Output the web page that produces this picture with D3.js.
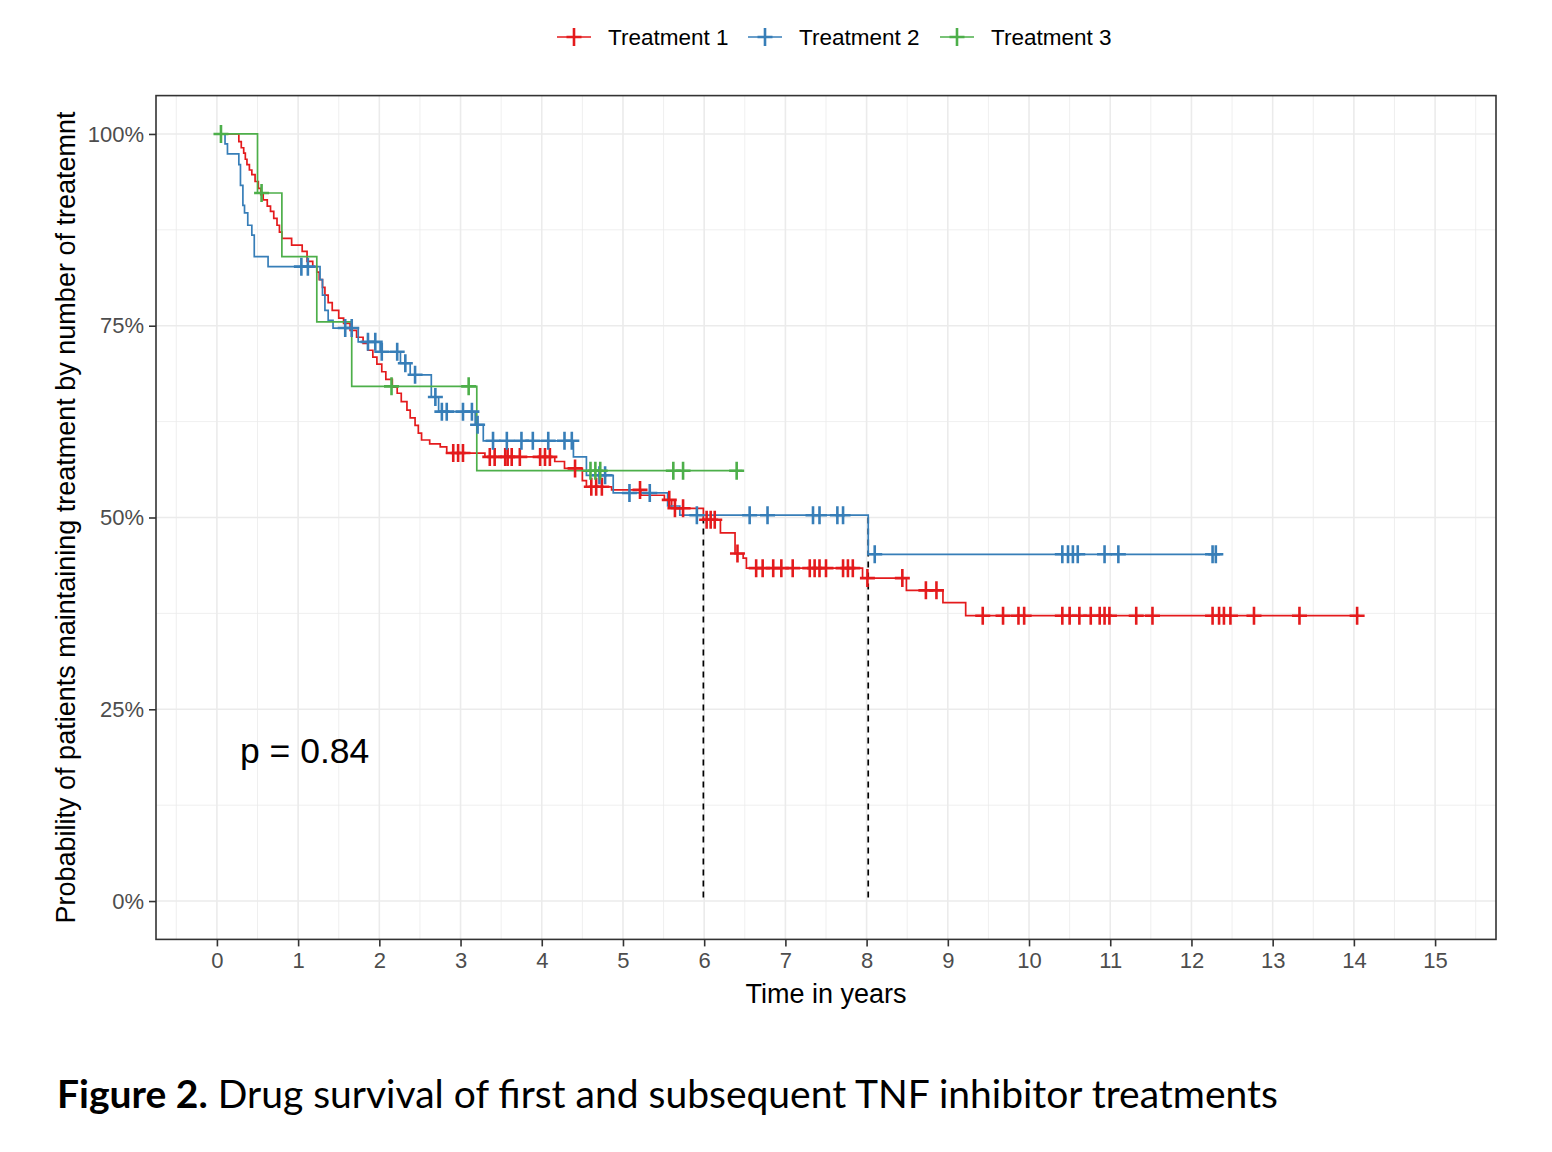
<!DOCTYPE html>
<html>
<head>
<meta charset="utf-8">
<script src="https://cdn.jsdelivr.net/npm/d3@7"></script>
<style>
  body { margin: 0; background: #fff; }
  text { font-family: "Liberation Sans", Arial, sans-serif; }
</style>
</head>
<body>
<div id="chart"></div>
<script>
// strata and colours
var groups = ["Treatment 1", "Treatment 2", "Treatment 3"];
var colors = ["#E41A1C", "#377EB8", "#4DAF4A"];

// Treatment 1 : step times / survival after the step (last entry = end of follow-up)
var t1Times = [0, 0.27, 0.30, 0.33, 0.35, 0.37, 0.40, 0.43, 0.47, 0.51, 0.54, 0.57, 0.62, 0.66, 0.70, 0.74, 0.77, 0.80, 0.92,
  1.05, 1.11, 1.18, 1.23, 1.26, 1.30, 1.33, 1.37, 1.42, 1.50, 1.56, 1.64, 1.72, 1.80, 1.86, 1.92, 1.97,
  2.03, 2.08, 2.16, 2.22, 2.27, 2.34, 2.38, 2.44, 2.48, 2.52, 2.62, 2.75, 2.83, 3.30, 4.16, 4.28, 4.50, 4.55,
  4.86, 5.22, 5.51, 5.60, 5.99, 6.20, 6.38, 6.48, 6.52, 7.95, 8.49, 8.94, 9.22, 14.07];
var t1Surv = [1, 0.990, 0.982, 0.975, 0.967, 0.960, 0.953, 0.947, 0.938, 0.929, 0.921, 0.914, 0.906, 0.899, 0.890, 0.881, 0.872, 0.864, 0.855,
  0.847, 0.834, 0.827, 0.820, 0.810, 0.800, 0.790, 0.780, 0.770, 0.760, 0.753, 0.744, 0.735, 0.727, 0.718, 0.709, 0.700,
  0.690, 0.680, 0.670, 0.662, 0.651, 0.640, 0.630, 0.620, 0.610, 0.601, 0.596, 0.592, 0.584, 0.579, 0.573, 0.564, 0.548, 0.540,
  0.536, 0.529, 0.523, 0.512, 0.497, 0.480, 0.453, 0.447, 0.434, 0.421, 0.405, 0.389, 0.372, 0.372];
var t1Censor = [2.91, 2.97, 3.03, 3.36, 3.42, 3.55, 3.58, 3.63, 3.73, 3.98, 4.04, 4.10, 4.41, 4.61, 4.67, 4.74, 5.21, 5.57,
  5.64, 5.74, 6.03, 6.08, 6.13, 6.41, 6.64, 6.72, 6.85, 6.95, 7.09, 7.30, 7.36, 7.42, 7.50, 7.71, 7.77, 7.83, 8.01, 8.44,
  8.73, 8.86, 9.43, 9.68, 9.87, 9.94, 10.41, 10.50, 10.62, 10.76, 10.87, 10.93, 10.99, 11.32, 11.52, 12.26, 12.34,
  12.40, 12.48, 12.77, 13.33, 14.04];

// Treatment 2
var t2Times = [0, 0.10, 0.13, 0.27, 0.29, 0.32, 0.34, 0.38, 0.43, 0.46, 0.63, 1.27, 1.30, 1.33, 1.37, 1.43, 1.74, 2.01,
  2.26, 2.38, 2.64, 2.73, 3.18, 3.28, 4.39, 4.55, 4.88, 5.55, 5.70, 8.02, 12.38];
var t2Surv = [1, 0.987, 0.974, 0.960, 0.933, 0.907, 0.897, 0.881, 0.868, 0.840, 0.827, 0.810, 0.790, 0.770, 0.757, 0.747, 0.729, 0.716,
  0.701, 0.686, 0.657, 0.638, 0.621, 0.600, 0.579, 0.555, 0.532, 0.515, 0.503, 0.452, 0.452];
var t2Censor = [1.04, 1.12, 1.58, 1.66, 1.86, 1.95, 2.03, 2.22, 2.32, 2.44, 2.69, 2.77, 2.83, 3.03, 3.14, 3.21, 3.40, 3.57,
  3.75, 3.89, 4.08, 4.28, 4.37, 4.71, 4.78, 5.08, 5.33, 5.91, 6.56, 6.78, 7.34, 7.42, 7.64, 7.71, 8.10, 10.41, 10.48,
  10.54, 10.60, 10.93, 11.10, 12.26, 12.30];

// Treatment 3
var t3Times = [0, 0.50, 0.80, 1.23, 1.66, 3.20, 6.47];
var t3Surv = [1, 0.923, 0.840, 0.755, 0.671, 0.561, 0.561];
var t3Censor = [0.05, 0.55, 2.15, 3.10, 4.60, 4.66, 4.72, 5.62, 5.74, 6.40];

var seriesTimes = [t1Times, t2Times, t3Times];
var seriesSurv = [t1Surv, t2Surv, t3Surv];
var seriesCensor = [t1Censor, t2Censor, t3Censor];

// median survival lines (Treatment 1, Treatment 2)
var medianTimes = [5.99, 8.02];

var xTicks = d3.range(0, 16);
var yTicks = [0, 0.25, 0.5, 0.75, 1];
var pLabel = "p = 0.84";
var xTitle = "Time in years";
var yTitle = "Probability of patients maintaining treatment by number of treatemnt";

var W = 1552, H = 1152;
var svg = d3.select("#chart").append("svg")
    .attr("width", W)
    .attr("height", H);
svg.append("rect").attr("width", W).attr("height", H).attr("fill", "#fff");

// panel
var x = d3.scaleLinear().domain([-0.75, 15.75]).range([156, 1496]);
var y = d3.scaleLinear().domain([-0.05, 1.05]).range([939.4, 95.6]);

var grid = svg.append("g");
// minor grid
d3.range(-0.5, 15.6, 1).forEach(function (v) {
    grid.append("line").attr("x1", x(v)).attr("x2", x(v)).attr("y1", y.range()[0]).attr("y2", y.range()[1])
        .attr("stroke", "#EBEBEB").attr("stroke-width", 0.8);
});
[0.125, 0.375, 0.625, 0.875].forEach(function (v) {
    grid.append("line").attr("x1", x.range()[0]).attr("x2", x.range()[1]).attr("y1", y(v)).attr("y2", y(v))
        .attr("stroke", "#EBEBEB").attr("stroke-width", 0.8);
});
// major grid
xTicks.forEach(function (v) {
    grid.append("line").attr("x1", x(v)).attr("x2", x(v)).attr("y1", y.range()[0]).attr("y2", y.range()[1])
        .attr("stroke", "#EBEBEB").attr("stroke-width", 1.6);
});
yTicks.forEach(function (v) {
    grid.append("line").attr("x1", x.range()[0]).attr("x2", x.range()[1]).attr("y1", y(v)).attr("y2", y(v))
        .attr("stroke", "#EBEBEB").attr("stroke-width", 1.6);
});

// survival value at time t
function stepAt(times, surv, t) {
    var i = d3.bisectRight(times, t) - 1;
    return surv[Math.max(0, i)];
}

var line = d3.line()
    .x(d => x(d[0]))
    .y(d => y(d[1]))
    .curve(d3.curveStepAfter);

// median lines
medianTimes.forEach(function (m) {
    svg.append("line")
        .attr("x1", x(m)).attr("x2", x(m))
        .attr("y1", y(0.5)).attr("y2", y(0))
        .attr("stroke", "#000").attr("stroke-width", 1.7)
        .attr("stroke-dasharray", "6,5");
});

// curves
seriesTimes.forEach(function (times, k) {
    var pts = times.map((t, i) => [t, seriesSurv[k][i]]);
    svg.append("path")
        .datum(pts)
        .attr("fill", "none")
        .attr("stroke", colors[k])
        .attr("stroke-width", 1.7)
        .attr("d", line);
});

// censor marks
function plus(g, cx, cy, col, hw, hh) {
    g.append("path")
        .attr("d", "M" + (cx - hw) + "," + cy + "H" + (cx + hw) + "M" + cx + "," + (cy - hh) + "V" + (cy + hh))
        .attr("stroke", col)
        .attr("stroke-width", 2.6)
        .attr("fill", "none");
}
seriesCensor.forEach(function (cens, k) {
    var g = svg.append("g");
    cens.forEach(function (t) {
        plus(g, x(t), y(stepAt(seriesTimes[k], seriesSurv[k], t)), colors[k], 7.5, 9);
    });
});

// panel border
svg.append("rect")
    .attr("x", x.range()[0]).attr("y", y.range()[1])
    .attr("width", x.range()[1] - x.range()[0])
    .attr("height", y.range()[0] - y.range()[1])
    .attr("fill", "none").attr("stroke", "#333").attr("stroke-width", 1.6);

// axes
var xAxis = svg.append("g")
    .attr("transform", "translate(0," + y.range()[0] + ")")
    .call(d3.axisBottom(x).tickValues(xTicks).tickSize(7).tickPadding(6));
var yAxis = svg.append("g")
    .attr("transform", "translate(" + x.range()[0] + ",0)")
    .call(d3.axisLeft(y).tickValues(yTicks).tickFormat(d3.format(".0%")).tickSize(7).tickPadding(5));
[xAxis, yAxis].forEach(function (a) {
    a.select(".domain").remove();
    a.selectAll(".tick line").attr("stroke", "#333").attr("stroke-width", 1.6);
    a.selectAll(".tick text")
        .attr("fill", "#4D4D4D")
        .style("font-size", "22px")
        .style("font-family", "'Liberation Sans', Arial, sans-serif");
});

// axis titles
svg.append("text")
    .attr("x", (x.range()[0] + x.range()[1]) / 2)
    .attr("y", 1003)
    .attr("text-anchor", "middle")
    .style("font-size", "27px")
    .attr("fill", "#000")
    .text(xTitle);
svg.append("text")
    .attr("transform", "translate(75," + ((y.range()[0] + y.range()[1]) / 2) + ") rotate(-90)")
    .attr("text-anchor", "middle")
    .style("font-size", "27px")
    .attr("fill", "#000")
    .text(yTitle);

// p value
svg.append("text")
    .attr("x", 240).attr("y", 763)
    .style("font-size", "35.5px")
    .attr("fill", "#000")
    .text(pLabel);

// legend
var legX = [557, 748, 940];
groups.forEach(function (gname, k) {
    var lg = svg.append("g").attr("transform", "translate(" + legX[k] + ",37)");
    lg.append("line").attr("x1", 0).attr("x2", 34).attr("y1", 0).attr("y2", 0)
        .attr("stroke", colors[k]).attr("stroke-width", 1.7);
    plus(lg, 17, 0, colors[k], 7.5, 9);
    lg.append("text")
        .attr("x", 51).attr("y", 8)
        .style("font-size", "22.5px")
        .attr("fill", "#000")
        .text(gname);
});

// caption
var cap = svg.append("text")
    .attr("x", 57).attr("y", 1108)
    .style("font-family", "Lato, 'Open Sans', sans-serif")
    .style("font-size", "39px")
    .attr("fill", "#000");
cap.append("tspan").style("font-weight", "bold").text("Figure 2.");
cap.append("tspan").text(" Drug survival of first and subsequent TNF inhibitor treatments");
</script>
</body>
</html>
